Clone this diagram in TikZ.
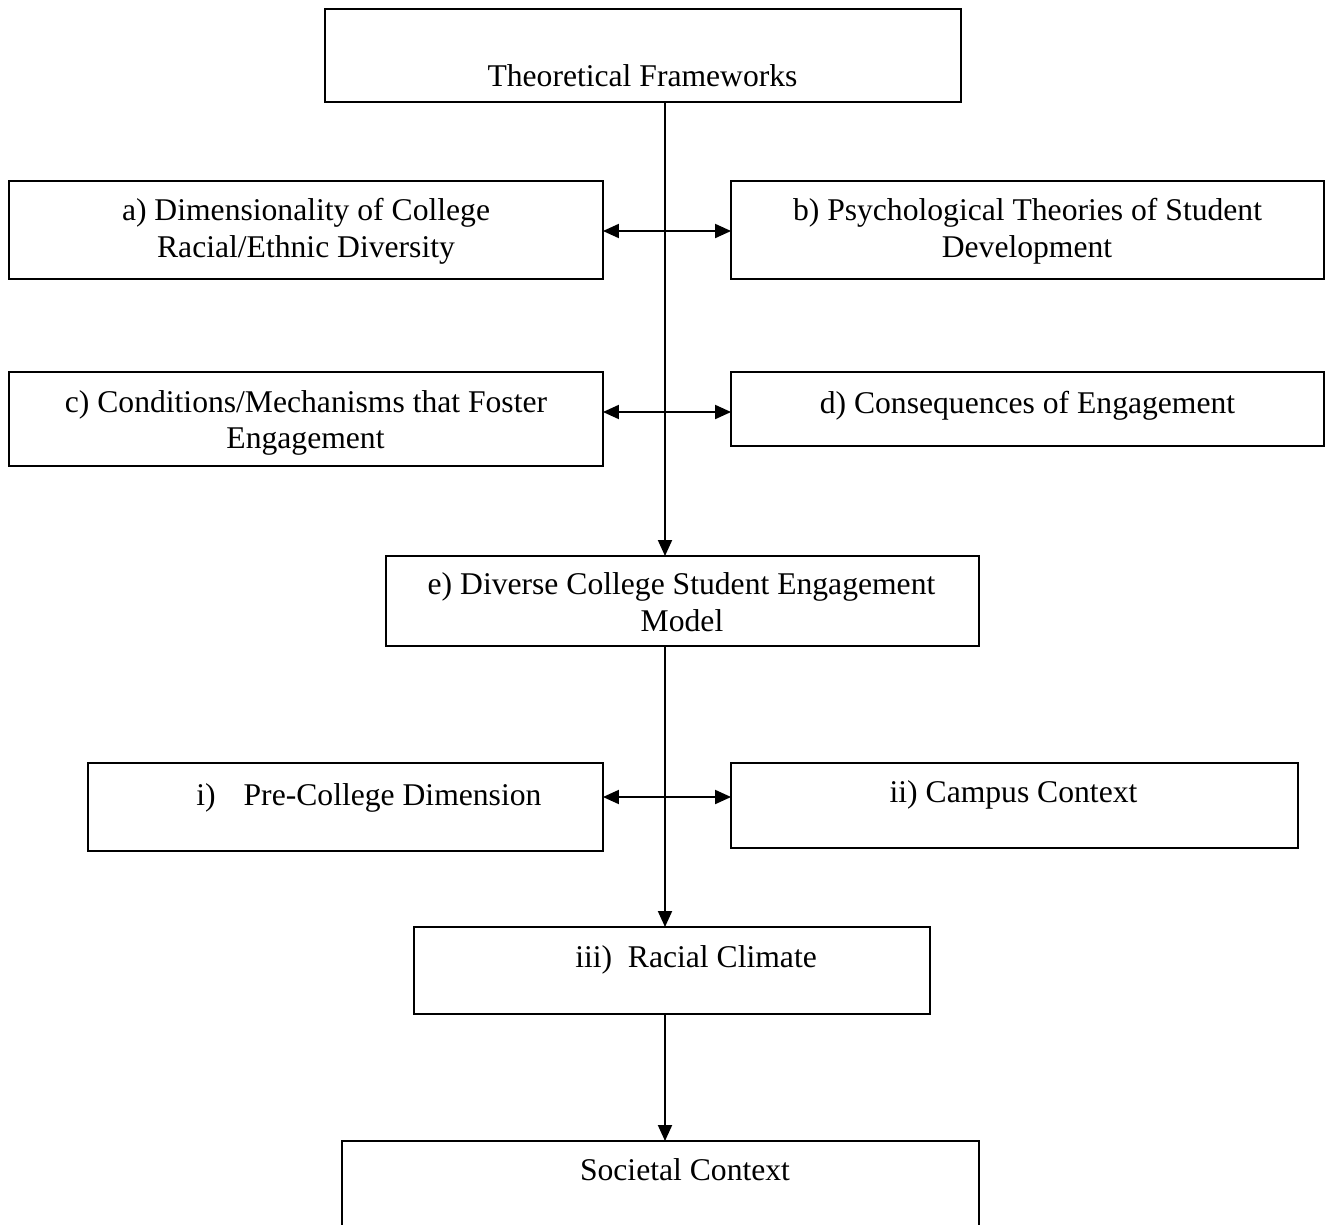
\documentclass[tikz,border=0pt]{standalone}
\usepackage{fontspec}
\setmainfont{Liberation Serif}
\usetikzlibrary{arrows.meta}
\begin{document}
\begin{tikzpicture}[x=0.02cm,y=-0.02cm,
  box/.style={draw=black,line width=1.1pt,inner sep=0pt,outer sep=0pt,fill=none},
  txt/.style={inner sep=0pt,anchor=base,font=\fontsize{18pt}{21.6pt}\selectfont},
  conn/.style={line width=1.1pt,draw=black},
  arr/.style={conn,-{Triangle[length=0.32cm,width=0.28cm]}},
  darr/.style={conn,{Triangle[length=0.32cm,width=0.28cm]}-{Triangle[length=0.32cm,width=0.28cm]}}]
\fill[white] (0,0) rectangle (1325,1224);
\useasboundingbox (0,0) rectangle (1325,1224);
% boxes
\node[box,minimum width=12.72cm,minimum height=1.86cm] (tf) at (643,55.5) {};
\node[box,minimum width=11.88cm,minimum height=1.96cm] (a) at (306,230) {};
\node[box,minimum width=11.86cm,minimum height=1.96cm] (b) at (1027.5,230) {};
\node[box,minimum width=11.88cm,minimum height=1.88cm] (c) at (306,419) {};
\node[box,minimum width=11.86cm,minimum height=1.48cm] (d) at (1027.5,409) {};
\node[box,minimum width=11.86cm,minimum height=1.8cm] (e) at (682.5,601) {};
\node[box,minimum width=10.3cm,minimum height=1.76cm] (pre) at (345.5,807) {};
\node[box,minimum width=11.34cm,minimum height=1.7cm] (camp) at (1014.5,805.5) {};
\node[box,minimum width=10.32cm,minimum height=1.74cm] (rc) at (672,970.5) {};
\node[box,minimum width=12.74cm,minimum height=2.38cm] (soc) at (660.5,1200.5) {};
% texts
\node[txt] (tft) at (642.5,86) {Theoretical Frameworks};
\node[txt] (at1) at (306,220) {a) Dimensionality of College};
\node[txt] (at2) at (306,257) {Racial/Ethnic Diversity};
\node[txt] (bt1) at (1027.5,220) {b) Psychological Theories of Student};
\node[txt] (bt2) at (1027,257) {Development};
\node[txt] (ct1) at (306,412) {c) Conditions/Mechanisms that Foster};
\node[txt] (ct2) at (305.5,448) {Engagement};
\node[txt] (dt) at (1027.5,413) {d) Consequences of Engagement};
\node[txt] (et1) at (681.5,594) {e) Diverse College Student Engagement};
\node[txt] (et2) at (682,631) {Model};
\node[txt,anchor=base west] (pret) at (196,805) {i)\hspace{0.56cm}Pre-College Dimension};
\node[txt] (campt) at (1013.5,802) {ii) Campus Context};
\node[txt] (rct) at (696,967) {iii)\ \ Racial Climate};
\node[txt] (soct) at (685,1180) {Societal Context};
% connectors
\coordinate (sp) at (665,0);
\coordinate (yab) at (0,231);
\coordinate (ycd) at (0,412);
\coordinate (yi) at (0,797);
\draw[arr] (tf.south -| sp) -- (e.north -| sp);
\draw[darr] (a.east |- yab) -- (b.west |- yab);
\draw[darr] (c.east |- ycd) -- (d.west |- ycd);
\draw[arr] (e.south -| sp) -- (rc.north -| sp);
\draw[darr] (pre.east |- yi) -- (camp.west |- yi);
\draw[arr] (rc.south -| sp) -- (soc.north -| sp);
\end{tikzpicture}
\end{document}
